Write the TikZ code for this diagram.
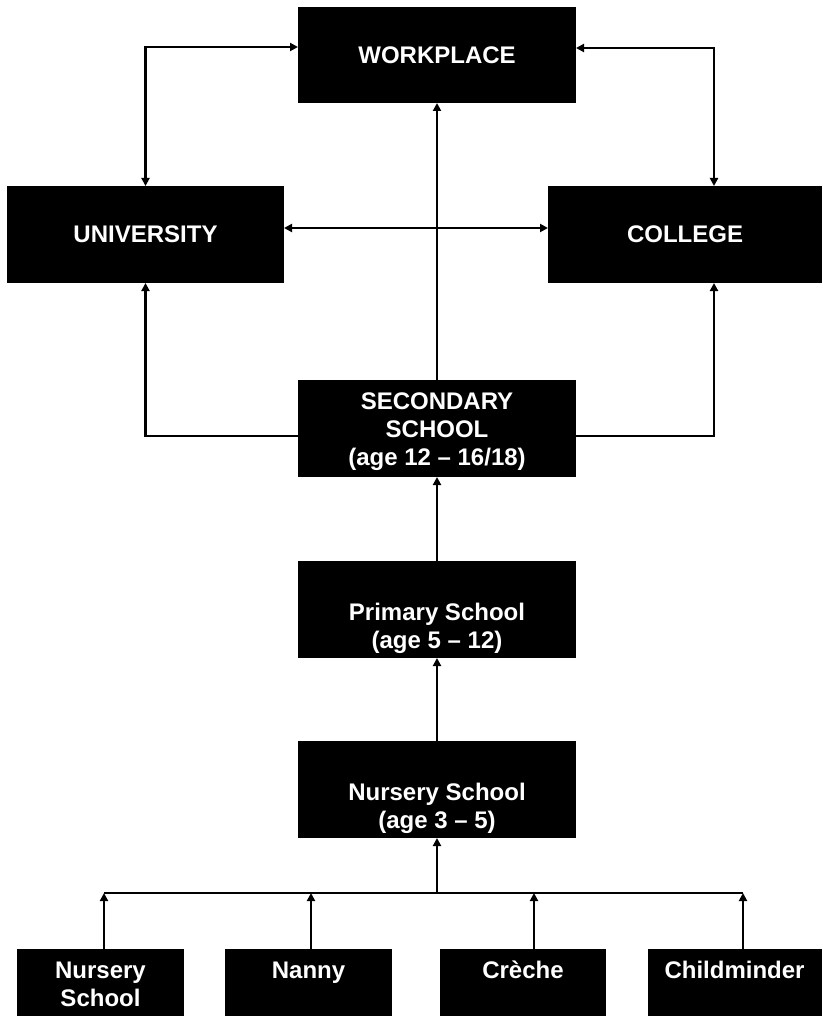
\documentclass[tikz,border=0pt]{standalone}
\usepackage{fontspec}
\setmainfont{Liberation Sans}
\usetikzlibrary{arrows.meta}
\begin{document}
\begin{tikzpicture}[x=1pt,y=-1pt,
  >={Triangle[length=8pt,width=8pt]},
  box/.style={fill=black,draw=none,inner sep=0pt,outer sep=0pt,text=white,
    font=\bfseries\fontsize{24}{28}\selectfont},
  lbl/.style={text=white,inner sep=0pt,outer sep=0pt,align=center,
    font=\bfseries\fontsize{24}{28}\selectfont},
  conn/.style={line width=2.8pt,draw=black}]
\useasboundingbox (0,0) rectangle (822,1016);
\clip (0,0) rectangle (822,1016);
\fill[white] (0,0) rectangle (822,1016);

% main boxes
\node[box,minimum width=278pt,minimum height=96pt] (wp) at (437,55) {WORKPLACE};
\node[box,minimum width=277pt,minimum height=97pt] (uni) at (145.5,234.5) {UNIVERSITY};
\node[box,minimum width=274pt,minimum height=97pt] (col) at (685,234.5) {COLLEGE};
\node[box,minimum width=278pt,minimum height=97pt] (sec) at (437,428.5) {};
\node[box,minimum width=278pt,minimum height=97pt] (pri) at (437,609.5) {};
\node[box,minimum width=278pt,minimum height=97pt] (nur) at (437,789.5) {};

% bottom boxes
\node[box,minimum width=167pt,minimum height=67pt] (nsb) at (100.5,982.5) {};
\node[box,minimum width=167pt,minimum height=67pt] (nan) at (308.5,982.5) {};
\node[box,minimum width=166pt,minimum height=67pt] (cre) at (523,982.5) {};
\node[box,minimum width=174pt,minimum height=67pt] (chm) at (735,982.5) {};

% texts
\node[lbl,anchor=north] (sect) at (437,393) {SECONDARY\\SCHOOL\\(age 12 – 16/18)};
\node[lbl,anchor=north] (prit) at (437,603) {Primary School\\(age 5 – 12)};
\node[lbl,anchor=north] (nurt) at (437,783) {Nursery School\\(age 3 – 5)};
\node[lbl,anchor=north] (nsbt) at (100.5,962) {Nursery\\School};
\node[lbl,anchor=base] (nant) at (308.5,978) {Nanny};
\node[lbl,anchor=base] (cret) at (523,978) {Crèche};
\node[lbl,anchor=base] (chmt) at (734.5,978) {Childminder};

% connectors
\draw[conn,<->] ([yshift=8pt]wp.west) -| (uni.north);
\draw[conn,<->] ([yshift=7pt]wp.east) -| ([xshift=29pt]col.north);
\draw[conn,<->] ([yshift=6.5pt]uni.east) -- ([yshift=6.5pt]col.west);
\draw[conn,->] (sec.north) -- (wp.south);
\draw[conn,->] ([yshift=-7.5pt]sec.west) -| (uni.south);
\draw[conn,->] ([yshift=-7.5pt]sec.east) -| ([xshift=29pt]col.south);
\draw[conn,->] (pri.north) -- (sec.south);
\draw[conn,->] (nur.north) -- (pri.south);

\coordinate (busL) at (104,893);
\coordinate (busR) at (743,893);
\draw[conn] (busL) -- (busR);
\draw[conn,->] (nur.south |- busL) -- (nur.south);
\draw[conn,->] ([xshift=3.5pt]nsb.north) -- ([xshift=3.5pt]nsb.north |- busL);
\draw[conn,->] ([xshift=2.5pt]nan.north) -- ([xshift=2.5pt]nan.north |- busL);
\draw[conn,->] ([xshift=11pt]cre.north) -- ([xshift=11pt]cre.north |- busL);
\draw[conn,->] ([xshift=8pt]chm.north) -- ([xshift=8pt]chm.north |- busL);
\end{tikzpicture}
\end{document}
